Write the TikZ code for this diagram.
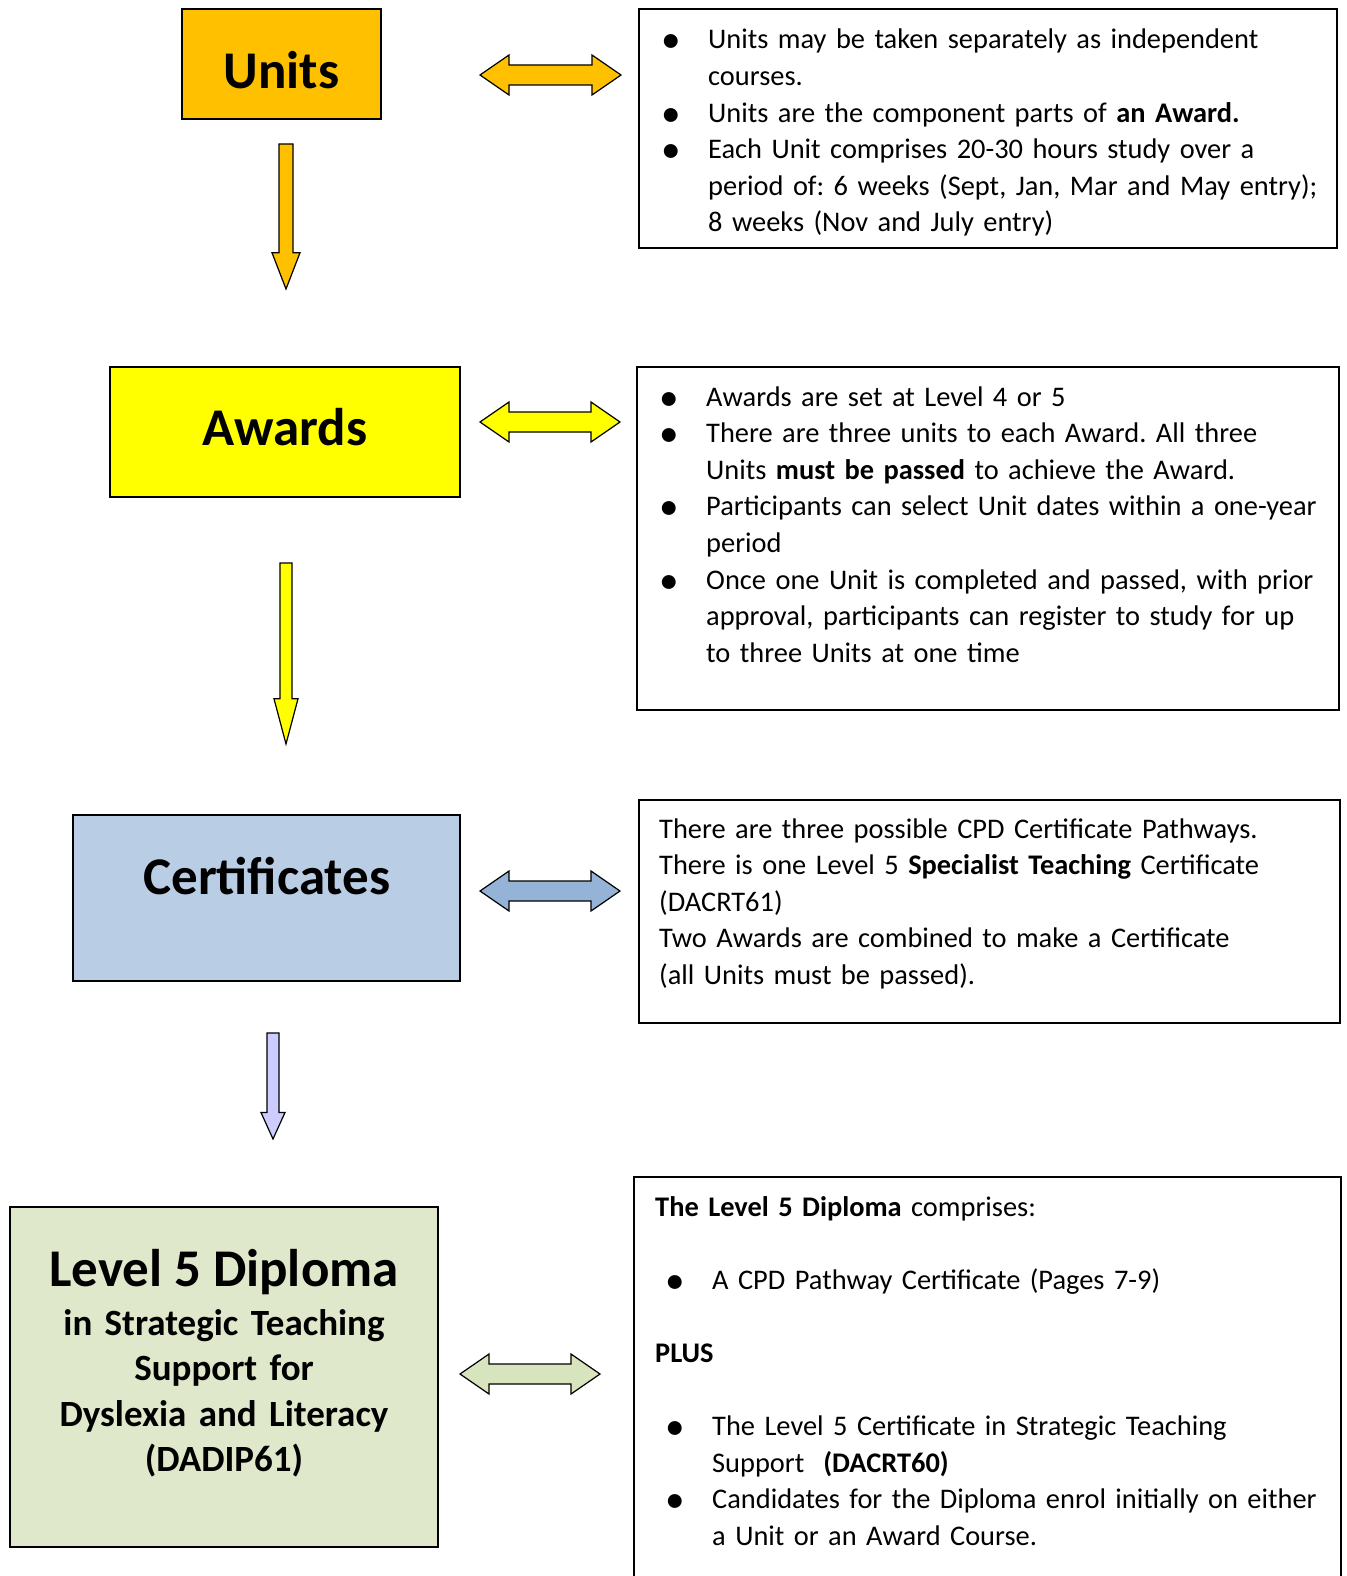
\documentclass[tikz,border=0pt]{standalone}
\usepackage{graphicx}
\usepackage{fontspec}
\setmainfont{Carlito}
\usetikzlibrary{positioning}
\frenchspacing

\definecolor{unitgold}{HTML}{FFC000}
\definecolor{awardyellow}{HTML}{FFFF00}
\definecolor{certblue}{HTML}{B9CDE5}
\definecolor{certarrow}{HTML}{95B3D7}
\definecolor{diplomalilac}{HTML}{CCCCFF}
\definecolor{diplomagreen}{HTML}{DFE8CB}
\definecolor{diplomaarrow}{HTML}{D7E4BD}

% bullet line with hanging indent (break lines inside with \newline)
\newcommand{\bitem}[1][0pt]{\hangindent=\dimexpr47pt+#1\relax\hangafter=1\noindent
  \hspace*{#1}\makebox[47pt][l]{\smash{\raisebox{-4pt}{\scalebox{1.38}{\textbullet}}}}\ignorespaces}
% block arrow pointing down: x, top, tip, shaft half width, head half width, fill
\newcommand{\downblock}[6]{%
  \draw[blockarrow, fill=#6] (#1-#4,#2) -- (#1+#4,#2) -- (#1+#4,{#3-0.25*(#3-#2)})
    -- (#1+#5,{#3-0.25*(#3-#2)}) -- (#1,#3) -- (#1-#5,{#3-0.25*(#3-#2)})
    -- (#1-#4,{#3-0.25*(#3-#2)}) -- cycle;}
% block arrow with two heads: left x, right x, mid y, fill
\newcommand{\bothblock}[4]{%
  \draw[blockarrow, fill=#4] (#1,#3) -- (#1+29,#3-20) -- (#1+29,#3-10) -- (#2-29,#3-10)
    -- (#2-29,#3-20) -- (#2,#3) -- (#2-29,#3+20) -- (#2-29,#3+10) -- (#1+29,#3+10)
    -- (#1+29,#3+20) -- cycle;}

\tikzset{%
  % Specifications for style of nodes:
       base/.style = {rectangle, draw=black, line width=1.6pt, inner sep=0pt},
   titlebox/.style = {base},
  titletext/.style = {inner sep=0pt, font=\fontsize{53}{60}\selectfont\bfseries},
    infobox/.style = {base, fill=white},
   infotext/.style = {anchor=base west, inner sep=0pt, align=left, text width=680pt,
                      font=\fontsize{28.4}{36.6}\selectfont},
 blockarrow/.style = {draw=black, line width=1.2pt, line join=miter},
}

\begin{document}
\begin{tikzpicture}[x=1pt, y=-1pt]
  \useasboundingbox (0,0) rectangle (1346,1576);
  % left column
  \node (units)    [titlebox, fill=unitgold, minimum width=199pt, minimum height=110pt] at (281.5,64) {};
  \node (unitsname) [titletext] at (281.5,70) {Units};
  \node (awards)   [titlebox, fill=awardyellow, minimum width=350pt, minimum height=130pt] at (285,432) {};
  \node (awardsname) [titletext] at (285,427) {Awards};
  \node (certs)    [titlebox, fill=certblue, minimum width=387pt, minimum height=166pt] at (266.5,898) {};
  \node (certsname) [titletext] at (267,876) {Certificates};
  \node (diploma)  [titlebox, fill=diplomagreen, minimum width=428pt, minimum height=340pt] at (224,1377) {};
  \node (diplomahead) [titletext, anchor=base] at (224,1286) {Level 5 Diploma};
  \node (diplomasub) [anchor=base, inner sep=0pt, align=center, text width=420pt,
                      font=\fontsize{37}{45.5}\selectfont\bfseries]
    at (224,1335) {in Strategic Teaching\\Support for\\Dyslexia and Literacy\\(DADIP61)};

  % right column
  \node (unitsinfo)   [infobox, minimum width=698pt, minimum height=239pt] at (988,128.5) {};
  \node (unitstext)   [infotext] at (661,49) {%
    \bitem Units may be taken separately as independent\newline courses.\par
    \bitem Units are the component parts of \textbf{an Award.}\par
    \bitem Each Unit comprises 20-30 hours study over a\newline period of: 6 weeks (Sept, Jan, Mar and May entry);\newline 8 weeks (Nov and July entry)\par};
  \node (awardsinfo)  [infobox, minimum width=702pt, minimum height=343pt] at (988,538.5) {};
  \node (awardstext)  [infotext] at (659,406) {%
    \bitem Awards are set at Level 4 or 5\par
    \bitem There are three units to each Award. All three\newline Units \textbf{must be passed} to achieve the Award.\par
    \bitem Participants can select Unit dates within a one-year\newline period\par
    \bitem Once one Unit is completed and passed, with prior\newline approval, participants can register to study for up\newline to three Units at one time\par};
  \node (certsinfo)   [infobox, minimum width=701pt, minimum height=223pt] at (989.5,911.5) {};
  \node (certstext)   [infotext] at (659,838) {%
    There are three possible CPD Certificate Pathways.\\
    There is one Level 5 \textbf{Specialist Teaching} Certificate\\
    (DACRT61)\\
    Two Awards are combined to make a Certificate\\
    (all Units must be passed).};
  \node (diplomainfo) [infobox, minimum width=707pt, minimum height=413pt] at (987.5,1383.5) {};
  \node (diplomatext) [infotext] at (655,1216) {%
    \textbf{The Level 5 Diploma} comprises:\par\vspace{36.6pt}
    \bitem[10pt] A CPD Pathway Certificate (Pages 7-9)\par\vspace{36.6pt}
    \noindent\textbf{PLUS}\par\vspace{36.6pt}
    \bitem[10pt] The Level 5 Certificate in Strategic Teaching\newline Support\ \ \textbf{(DACRT60)}\par
    \bitem[10pt] Candidates for the Diploma enrol initially on either\newline a Unit or an Award Course.\par};

  % block arrows down the left column
  \downblock{286}{144}{289}{7}{14}{unitgold}
  \downblock{286}{563}{744}{6}{12}{awardyellow}
  \downblock{273}{1033}{1139}{6}{12}{diplomalilac}
  % block arrows between the columns
  \bothblock{480}{621}{75}{unitgold}
  \bothblock{480}{620}{422}{awardyellow}
  \bothblock{480}{620}{891}{certarrow}
  \bothblock{460}{600}{1374}{diplomaarrow}
\end{tikzpicture}
\end{document}
